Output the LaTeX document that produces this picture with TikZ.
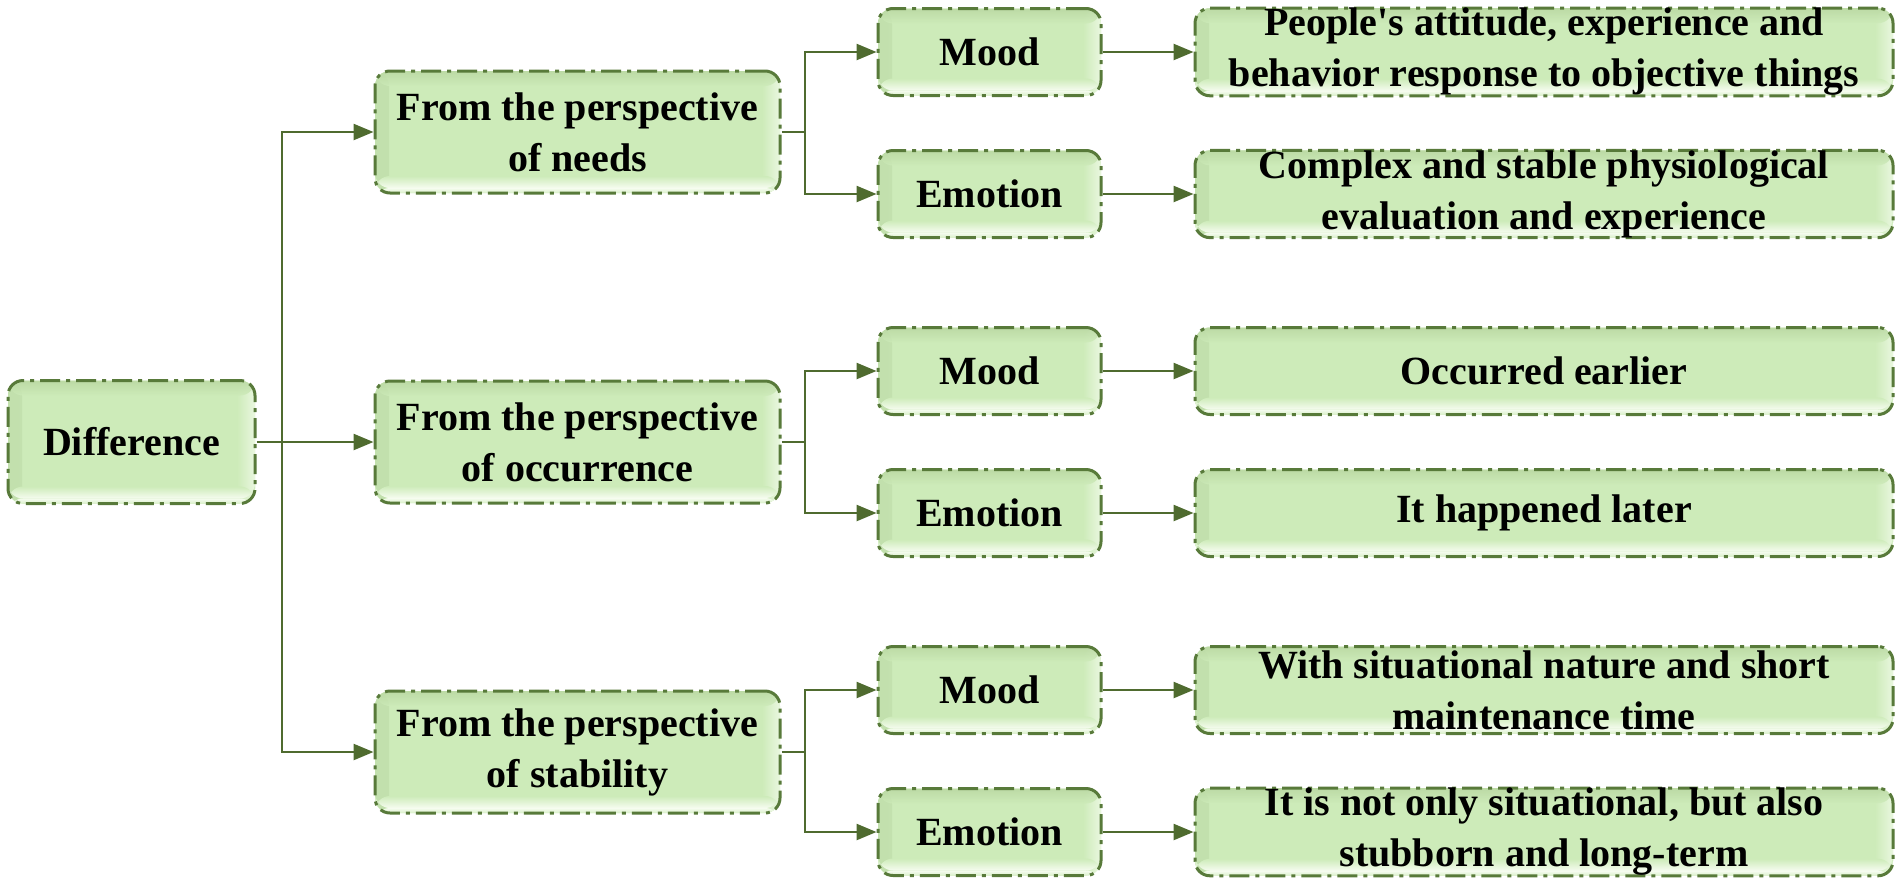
\documentclass[tikz,border=0pt]{standalone}
\usepackage{fontspec}
\newfontfamily\boxfont{Liberation Serif}
\usetikzlibrary{arrows.meta,calc}
\definecolor{edgec}{HTML}{587A3A}
\definecolor{wirec}{HTML}{4F6B2F}
\definecolor{gMid}{HTML}{CDEBB9}
\definecolor{gDark}{HTML}{B8D6A0}
\definecolor{gSide}{HTML}{C2E0AD}
\definecolor{gLight}{HTML}{F6FCF0}
\tikzset{
  bevelbands/.style={path picture={
    \shade[left color=gSide, right color=gMid]
      (path picture bounding box.north west) rectangle
      ($(path picture bounding box.south west)+(14,0)$);
    \shade[left color=gMid, right color=gLight!70!gMid]
      ($(path picture bounding box.north east)+(-18,0)$) rectangle
      (path picture bounding box.south east);
    \shade[top color=gDark, bottom color=gMid, fill opacity=0.8]
      (path picture bounding box.north west) rectangle
      ($(path picture bounding box.north east)+(0,15)$);
    \shade[top color=gMid, bottom color=gLight]
      ($(path picture bounding box.south west)+(0,-17)$) rectangle
      ($(path picture bounding box.south east)+(0,-5)$);
    \shade[top color=gLight, bottom color=gMid!70!gLight]
      ($(path picture bounding box.south west)+(0,-5)$) rectangle
      (path picture bounding box.south east);
  }}
}
\begin{document}
\begin{tikzpicture}[x=1pt,y=-1pt,
  box/.style={draw=edgec, line width=3pt, dash pattern=on 20pt off 6pt on 4pt off 6pt,
    rounded corners=15pt, fill=gMid, bevelbands, inner sep=0pt, align=center,
    font=\boxfont\fontsize{40}{51}\selectfont\bfseries},
  lvlA/.style={box, minimum width=247pt, minimum height=123pt},
  lvlB/.style={box, minimum width=405pt, minimum height=122pt},
  lvlC/.style={box, minimum width=223pt, minimum height=87pt},
  lvlD/.style={box, minimum width=698pt, minimum height=87pt},
  wire/.style={draw=wirec, line width=2.5pt},
  arr/.style={wire, -{Triangle[length=20pt,width=16pt]}}]
\useasboundingbox (0,0) rectangle (1902,884);

\node[lvlA] (d) at (131.5,442) {Difference};

\node[lvlB] (n) at (577.5,132) {From the perspective\\of needs};
\node[lvlB] (o) at (577.5,442) {From the perspective\\of occurrence};
\node[lvlB] (s) at (577.5,752) {From the perspective\\of stability};

\node[lvlC] (m1) at (989.5,52) {Mood};
\node[lvlC] (e1) at (989.5,194) {Emotion};
\node[lvlC] (m2) at (989.5,371) {Mood};
\node[lvlC] (e2) at (989.5,513) {Emotion};
\node[lvlC] (m3) at (989.5,690) {Mood};
\node[lvlC] (e3) at (989.5,832) {Emotion};

\node[lvlD] (r1) at (1544,52) {People's attitude, experience and\\behavior response to objective things};
\node[lvlD] (r2) at (1544,194) {Complex and stable physiological\\evaluation and experience};
\node[lvlD] (r3) at (1544,371) {Occurred earlier};
\node[lvlD] (r4) at (1544,513) {It happened later};
\node[lvlD] (r5) at (1544,690) {With situational nature and short\\maintenance time};
\node[lvlD] (r6) at (1544,832) {It is not only situational, but also\\stubborn and long-term};

\coordinate (t) at (282,442);
\draw[wire] (d.east) -- (t);
\draw[arr] (t) |- (n.west);
\draw[arr] (t) -- (o.west);
\draw[arr] (t) |- (s.west);

\coordinate (b1) at (805,132);
\coordinate (b2) at (805,442);
\coordinate (b3) at (805,752);
\draw[wire] (n.east) -- (b1);
\draw[wire] (o.east) -- (b2);
\draw[wire] (s.east) -- (b3);
\draw[arr] (b1) |- (m1.west);
\draw[arr] (b1) |- (e1.west);
\draw[arr] (b2) |- (m2.west);
\draw[arr] (b2) |- (e2.west);
\draw[arr] (b3) |- (m3.west);
\draw[arr] (b3) |- (e3.west);

\draw[arr] (m1) -- (r1);
\draw[arr] (e1) -- (r2);
\draw[arr] (m2) -- (r3);
\draw[arr] (e2) -- (r4);
\draw[arr] (m3) -- (r5);
\draw[arr] (e3) -- (r6);
\end{tikzpicture}
\end{document}
